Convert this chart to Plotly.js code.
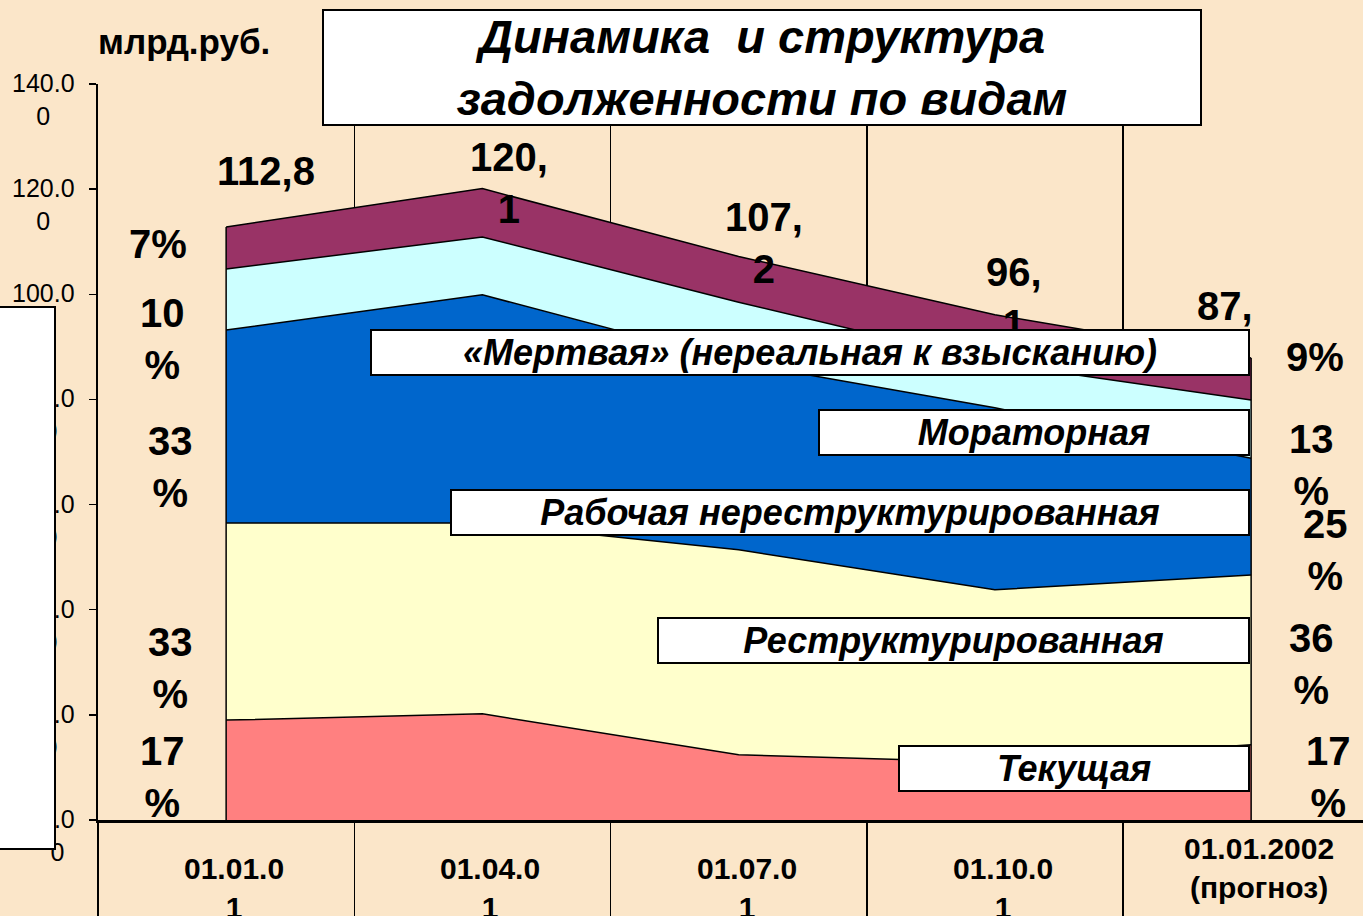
<!DOCTYPE html>
<html>
<head>
<meta charset="utf-8">
<script src="https://cdn.plot.ly/plotly-3.0.1.min.js"></script>
<style>
  html, body { margin: 0; padding: 0; background: #FBE6C9; }
  #chart { width: 1363px; height: 916px; }
</style>
</head>
<body>
<div id="chart"></div>
<script>
// даты (индексы по оси x) и подписи под осью
const dates = ['01.01.01', '01.04.01', '01.07.01', '01.10.01', '01.01.2002'];
const dateLabels = ['01.01.0<br>1', '01.04.0<br>1', '01.07.0<br>1', '01.10.0<br>1', '01.01.2002<br>(прогноз)'];

// задолженность по видам, млрд.руб.
const tekushchaya = [19.0, 20.2, 12.4, 11.0, 14.3];
const restrukt = [37.5, 36.3, 39.0, 32.8, 32.3];
const rabochaya = [36.7, 43.4, 35.6, 34.6, 22.2];
const moratornaya = [11.6, 11.0, 11.5, 8.5, 11.1];
const mertvaya = [8.0, 9.2, 8.7, 9.2, 8.0];

const totalText = ['112,8', '120,<br>1', '107,<br>2', '96,<br>1', '87,<br>9'];

// структура, % (снизу вверх)
const pctStart = [17, 33, 33, 10, 7];
const pctEnd = [17, 36, 25, 13, 9];

const seriesNames = ['Текущая', 'Реструктурированная', 'Рабочая нереструктурированная', 'Мораторная', '«Мертвая» (нереальная к взысканию)'];
const yTicks = [0, 20, 40, 60, 80, 100, 120, 140];

// ---- размещение ----
const L = 98, T = 84, W = 1265, H = 736;
function px(x) { return (x - L) / W; }
function py(y) { return (T + H - y) / H; }

const fontFam = 'Arial, "Liberation Sans", sans-serif';
const colors = ['#FF8080', '#FFFFCC', '#0066CC', '#CCFFFF', '#993366'];
const layers = [tekushchaya, restrukt, rabochaya, moratornaya, mertvaya];
const xs = dates.map((d, i) => i);
const totals = xs.map(i => layers.reduce((s, a) => s + a[i], 0));

let traces = layers.map((vals, k) => ({
  x: xs, y: vals, name: seriesNames[k],
  type: 'scatter', mode: 'lines', stackgroup: 'one',
  line: {color: '#000', width: 1.5},
  fillcolor: colors[k],
  hoverinfo: 'skip'
}));
// вертикальные края области
traces.push({
  x: [0, 0, null, 4, 4],
  y: [0, totals[0], null, 0, totals[4]],
  type: 'scatter', mode: 'lines',
  line: {color: '#000', width: 1.5},
  hoverinfo: 'skip'
});

let ann = [];

// подписи оси y
yTicks.forEach(v => {
  ann.push({
    xref: 'paper', yref: 'y', x: px(76), y: v,
    xanchor: 'right', yanchor: 'top', yshift: 16, borderpad: 0,
    text: v.toFixed(1) + '<br>0', showarrow: false, align: 'center',
    font: {family: fontFam, size: 25, color: '#000'}
  });
});

// белая рамка слева, закрывающая подписи
ann.push({
  xref: 'paper', yref: 'paper', x: px(56), y: py(306),
  xanchor: 'right', yanchor: 'top', borderpad: 0,
  width: 70, height: 540, text: ' ', showarrow: false,
  bgcolor: '#fff', bordercolor: '#000', borderwidth: 2
});

// подписи дат
dateLabels.forEach((t, i) => {
  ann.push({
    xref: 'x', yref: 'paper', x: i, y: py(i < 4 ? 851 : 831),
    xanchor: 'center', yanchor: 'top', xshift: 8, borderpad: 0,
    text: t, showarrow: false, align: 'center',
    font: {family: fontFam, size: 30, color: '#000', weight: 'bold'}
  });
});

// итоговые суммы
const totalShift = [[40, 56], [27, 6], [25, 13], [19, 17], [-26, 26]];
totalText.forEach((t, i) => {
  ann.push({
    xref: 'x', yref: 'y', x: i, y: totals[i],
    xshift: totalShift[i][0], yshift: totalShift[i][1],
    xanchor: 'center', yanchor: 'middle', borderpad: 0,
    text: t, showarrow: false, align: 'center',
    font: {family: fontFam, size: 40, color: '#000', weight: 'bold'}
  });
});

// проценты слева и справа
const pctStartPos = [[162, 777], [170, 668], [170, 467], [162, 339], [158, 244]];
const pctEndPos = [[1328, 777], [1311, 664], [1325, 550], [1311, 465], [1315, 357]];
function pctText(p, single) { return single ? p + '%' : p + '<br>%'; }
pctStart.forEach((p, k) => {
  ann.push({
    xref: 'paper', yref: 'paper', x: px(pctStartPos[k][0]), y: py(pctStartPos[k][1]),
    xanchor: 'center', yanchor: 'middle', borderpad: 0,
    text: pctText(p, k === 4), showarrow: false, align: 'center',
    font: {family: fontFam, size: 40, color: '#000', weight: 'bold'}
  });
});
pctEnd.forEach((p, k) => {
  ann.push({
    xref: 'paper', yref: 'paper', x: px(pctEndPos[k][0]), y: py(pctEndPos[k][1]),
    xanchor: 'center', yanchor: 'middle', borderpad: 0,
    text: pctText(p, k === 4), showarrow: false, align: 'center',
    font: {family: fontFam, size: 40, color: '#000', weight: 'bold'}
  });
});

// рамки с названиями видов
const boxes = [[898, 1250, 745, 792], [657, 1250, 617, 664], [450, 1250, 489, 536], [818, 1250, 409, 456], [370, 1250, 329, 376]];
seriesNames.forEach((name, k) => {
  const b = boxes[k];
  ann.push({
    xref: 'paper', yref: 'paper', x: px((b[0] + b[1]) / 2), y: py((b[2] + b[3]) / 2),
    xanchor: 'center', yanchor: 'middle', borderpad: 0,
    width: b[1] - b[0] - 4, height: b[3] - b[2] - 4,
    text: name, showarrow: false, align: 'center',
    bgcolor: '#fff', bordercolor: '#000', borderwidth: 2,
    font: {family: fontFam, size: 36, color: '#000', weight: 'bold', style: 'italic'}
  });
});

// заголовок
ann.push({
  xref: 'paper', yref: 'paper', x: px(762), y: py(67.5),
  xanchor: 'center', yanchor: 'middle', borderpad: 0,
  width: 876, height: 113,
  text: 'Динамика \u00a0и структура<br>задолженности по видам', showarrow: false, align: 'center',
  bgcolor: '#fff', bordercolor: '#000', borderwidth: 2,
  font: {family: fontFam, size: 47, color: '#000', weight: 'bold', style: 'italic'}
});

// единицы
ann.push({
  xref: 'paper', yref: 'paper', x: px(97), y: py(42),
  xanchor: 'left', yanchor: 'middle', borderpad: 0,
  text: 'млрд.руб.', showarrow: false,
  font: {family: fontFam, size: 35, color: '#000', weight: 'bold'}
});

let layout = {
  width: 1363, height: 916,
  margin: {l: L, r: 0, t: T, b: 96, pad: 0},
  paper_bgcolor: '#FBE6C9',
  plot_bgcolor: '#FBE6C9',
  showlegend: false,
  xaxis: {
    range: [-0.5, -0.5 + W / 256.25],
    tickvals: [-0.5, 0.5, 1.5, 2.5, 3.5, 4.5],
    showticklabels: false,
    ticks: 'outside', ticklen: 96, tickwidth: 1.5, tickcolor: '#000',
    showgrid: true, gridcolor: '#000', gridwidth: 1.5,
    showline: true, linecolor: '#000', linewidth: 2.5,
    zeroline: false, fixedrange: true
  },
  yaxis: {
    range: [0, 140],
    tickvals: yTicks,
    showticklabels: false,
    ticks: 'outside', ticklen: 7, tickwidth: 1.5, tickcolor: '#000',
    showgrid: false, zeroline: false,
    showline: true, linecolor: '#000', linewidth: 2,
    fixedrange: true
  },
  annotations: ann
};

Plotly.newPlot('chart', traces, layout, {displayModeBar: false, staticPlot: true});
</script>
</body>
</html>
